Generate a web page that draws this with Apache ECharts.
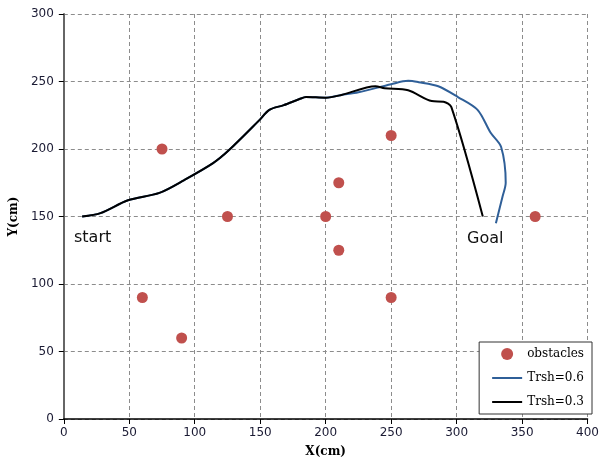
<!DOCTYPE html>
<html>
<head>
<meta charset="utf-8">
<script src="https://cdn.jsdelivr.net/npm/echarts@6/dist/echarts.min.js"></script>
<style>
  html, body { margin: 0; padding: 0; background: #fff; }
  #chart { width: 602px; height: 463px; }
</style>
</head>
<body>
<div id="chart"></div>
<script>
// obstacles
const obstacleX = [75, 125, 60, 90, 200, 210, 210, 250, 250, 360]
const obstacleY = [200, 150, 90, 60, 150, 175, 125, 210, 90, 150]

// path with Trsh=0.3 (black)
const pathLowX = [14, 28, 49, 73, 92, 114, 126, 149, 157, 168, 180, 185, 200, 212, 238, 245, 263, 281, 290, 296, 320]
const pathLowY = [150, 152.5, 162, 167.5, 177, 189.5, 199, 221, 229, 232.5, 237, 238.5, 238, 240, 246.5, 245, 243.5, 235.5, 235, 231, 150]

// path with Trsh=0.6 (blue)
const pathHighX = [14, 28, 49, 73, 92, 114, 126, 149, 157, 168, 180, 185, 200, 212, 225, 250, 263, 271, 286, 301, 316, 326, 334, 337.5, 335, 330]
const pathHighY = [150, 152.5, 162, 167.5, 177, 189.5, 199, 221, 229, 232.5, 237, 238.5, 238, 240, 242, 248, 250.5, 249.5, 246.5, 238.5, 229, 212, 201.5, 175, 164.5, 145]

const xTicks = [0, 400, 50]
const yTicks = [0, 300, 50]

const zip = (xs, ys) => xs.map((x, i) => [x, ys[i]])

const chart = echarts.init(document.getElementById('chart'))

const tickLabel = { color: '#1a1a33', fontSize: 12, fontFamily: 'DejaVu Sans' }
const gridLine = { show: true, lineStyle: { color: '#8c8c8c', type: [4, 3], width: 1 } }

chart.setOption({
  animation: false,
  grid: { left: 63, right: 12, top: 14, bottom: 44 },
  xAxis: {
    type: 'value',
    min: xTicks[0], max: xTicks[1], interval: xTicks[2],
    name: 'X(cm)',
    nameLocation: 'middle',
    nameGap: 27,
    nameTextStyle: { fontFamily: 'DejaVu Serif', fontWeight: 'bold', fontSize: 12, color: '#000' },
    axisLine: { show: true, onZero: false, lineStyle: { color: '#000', width: 1.5 } },
    axisTick: { show: true, length: 5, lineStyle: { color: '#000' } },
    axisLabel: Object.assign({ margin: 8 }, tickLabel),
    splitLine: gridLine
  },
  yAxis: {
    type: 'value',
    min: yTicks[0], max: yTicks[1], interval: yTicks[2],
    name: 'Y(cm)',
    nameLocation: 'middle',
    nameGap: 42,
    nameTextStyle: { fontFamily: 'DejaVu Serif', fontWeight: 'bold', fontSize: 12, color: '#000' },
    axisLine: { show: true, onZero: false, lineStyle: { color: '#666', width: 2 } },
    axisTick: { show: true, length: 5, lineStyle: { color: '#000' } },
    axisLabel: Object.assign({ margin: 10 }, tickLabel),
    splitLine: gridLine
  },
  legend: {
    orient: 'vertical',
    right: 10,
    bottom: 49,
    backgroundColor: '#fff',
    borderColor: '#333',
    borderWidth: 1,
    borderRadius: 0,
    padding: [6, 8, 6, 12],
    itemWidth: 30,
    itemHeight: 12,
    itemGap: 12,
    textStyle: { fontFamily: 'DejaVu Serif', fontSize: 12, color: '#000' },
    data: [
      { name: 'obstacles' },
      { name: 'Trsh=0.6', itemStyle: { opacity: 0 } },
      { name: 'Trsh=0.3', itemStyle: { opacity: 0 } }
    ]
  },
  graphic: [
    { type: 'text', left: 74, top: 230, style: { text: 'start', fontSize: 16, fontFamily: 'DejaVu Sans', fill: '#111' } },
    { type: 'text', left: 467, top: 231, style: { text: 'Goal', fontSize: 16, fontFamily: 'DejaVu Sans', fill: '#111' } }
  ],
  series: [
    {
      name: 'obstacles',
      type: 'scatter',
      symbolSize: 11,
      itemStyle: { color: '#c0504d', opacity: 1 },
      data: zip(obstacleX, obstacleY)
    },
    {
      name: 'Trsh=0.6',
      type: 'line',
      symbol: 'none',
      smooth: 0.3,
      lineStyle: { color: '#2f5f98', width: 2 },
      itemStyle: { color: '#2f5f98' },
      data: zip(pathHighX, pathHighY)
    },
    {
      name: 'Trsh=0.3',
      type: 'line',
      symbol: 'none',
      smooth: 0.3,
      lineStyle: { color: '#000', width: 2 },
      itemStyle: { color: '#000' },
      data: zip(pathLowX, pathLowY)
    }
  ]
})
</script>
</body>
</html>
